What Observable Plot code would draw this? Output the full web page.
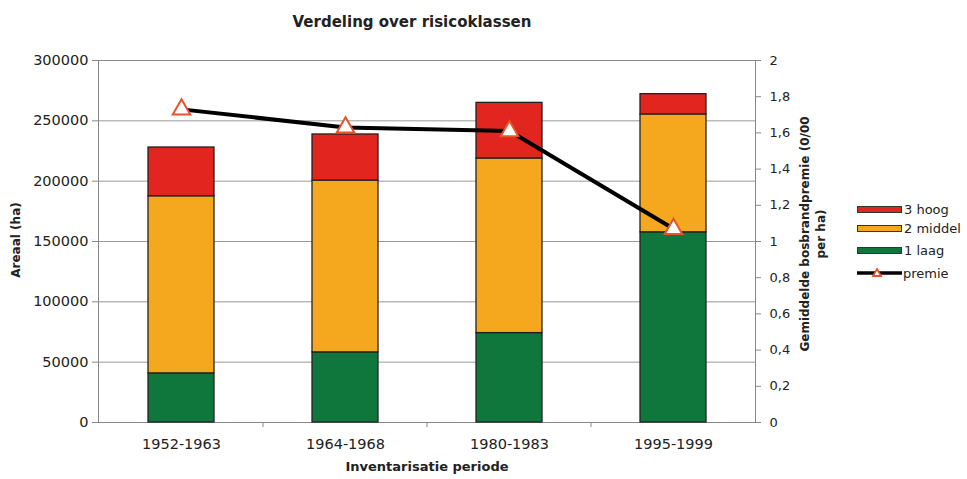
<!DOCTYPE html>
<html><head><meta charset="utf-8">
<script src="https://cdn.jsdelivr.net/npm/d3@7"></script>
<script src="https://cdn.jsdelivr.net/npm/@observablehq/plot@0.6"></script>
<style>
body{margin:0;background:#fff;}
#wrap{position:relative;width:967px;height:479px;font-family:"DejaVu Sans",sans-serif;color:#222;overflow:hidden;}
#wrap svg.plot{position:absolute;left:0;top:0;}
.lbl{position:absolute;white-space:nowrap;font-weight:bold;}
.leg{position:absolute;left:857px;font-size:13px;display:flex;align-items:center;white-space:nowrap;}
.leg .sw{width:43px;height:5px;border:1px solid #333;margin-right:2px;}
</style></head><body><div id="wrap"></div>
<script>
// ---- data ----
const periods = ["1952-1963", "1964-1968", "1980-1983", "1995-1999"];
const laag   = [40700, 58100, 74100, 157600];   // 1 laag
const middel = [146800, 142400, 144700, 97700]; // 2 middel
const hoog   = [40400, 38200, 46100, 16800];    // 3 hoog
const premie = [1.73, 1.63, 1.61, 1.07];        // gemiddelde bosbrandpremie
const classNames = ["1 laag", "2 middel", "3 hoog"];
const classColors = ["#10773c", "#f5a81d", "#e3251f"];
const leftTicks = [0, 50000, 100000, 150000, 200000, 250000, 300000];
const rightTicks = [0, 0.2, 0.4, 0.6, 0.8, 1, 1.2, 1.4, 1.6, 1.8, 2];

const factor = 300000 / 2; // right axis max 2 ↔ left axis max 300000

const stacked = [];
periods.forEach((p, i) => {
  [laag, middel, hoog].forEach((arr, k) => {
    stacked.push({period: p, klasse: classNames[k], value: arr[i]});
  });
});
const premieData = periods.map((p, i) => ({period: p, premie: premie[i]}));

const fmtRight = d => String(Math.round(d / factor * 10) / 10).replace(".", ",");

function boundaryTicks(index, scales, values, dimensions) {
  const sx = scales.x;
  const bw = typeof sx.bandwidth === "function" ? sx.bandwidth() : (sx.bandwidth || 0);
  const g = d3.create("svg:g").attr("stroke", "#888").attr("stroke-width", 1);
  const y0 = dimensions.height - dimensions.marginBottom;
  for (let i = 0; i < periods.length - 1; i++) {
    const xb = (sx(periods[i]) + sx(periods[i + 1])) / 2 + bw / 2;
    g.append("line").attr("x1", xb).attr("x2", xb).attr("y1", y0).attr("y2", y0 + 5);
  }
  return g.node();
}

const chart = Plot.plot({
  width: 967,
  height: 479,
  marginLeft: 98,
  marginRight: 212,
  marginTop: 60,
  marginBottom: 57,
  style: {fontFamily: "'DejaVu Sans', sans-serif", fontSize: "14px", color: "#222", background: "transparent"},
  x: {domain: periods, paddingInner: 0.6, paddingOuter: 0.3, align: 0.5},
  y: {domain: [0, 300000]},
  color: {domain: classNames, range: classColors},
  marks: [
    Plot.gridY(leftTicks, {stroke: "#999", strokeOpacity: 1}),
    Plot.frame({stroke: "#888"}),
    Plot.barY(stacked, {x: "period", y: "value", fill: "klasse", stroke: "#222", strokeWidth: 1.3}),
    Plot.line(premieData, {x: "period", y: d => d.premie * factor, stroke: "#000", strokeWidth: 4}),
    Plot.dot(premieData, {x: "period", y: d => d.premie * factor, symbol: "triangle", r: 6.5, fill: "#fff", stroke: "#e8542a", strokeWidth: 2}),
    Plot.axisY({anchor: "left", ticks: leftTicks, tickFormat: d => String(d), tickSize: 6, tickPadding: 4, label: null, stroke: "#888", fontSize: 14.5}),
    Plot.axisY({anchor: "right", ticks: rightTicks.map(v => v * factor), tickFormat: fmtRight, tickSize: 5, tickPadding: 9, label: null, stroke: "#888", fontSize: 13}),
    Plot.axisX({tickSize: 0, tickPadding: 16, label: null, fontSize: 14.5}),
    boundaryTicks
  ]
});
chart.classList.add("plot");
const wrap = document.getElementById("wrap");
wrap.appendChild(chart);

function addLabel(text, css, html) {
  const d = document.createElement("div");
  d.className = "lbl";
  if (html) d.innerHTML = text; else d.textContent = text;
  Object.assign(d.style, css);
  wrap.appendChild(d);
  return d;
}
// title
addLabel("Verdeling over risicoklassen", {left: "412px", top: "22px", fontSize: "15px", transform: "translate(-50%,-50%)"});
// x label
addLabel("Inventarisatie periode", {left: "427px", top: "466px", fontSize: "13px", transform: "translate(-50%,-50%)"});
// left y label
addLabel("Areaal (ha)", {left: "16px", top: "240px", fontSize: "12px", transform: "translate(-50%,-50%) rotate(-90deg)"});
// right y label
addLabel("Gemiddelde bosbrandpremie (0/00<br>per ha)", {left: "813px", top: "234px", fontSize: "12px", lineHeight: "16px", textAlign: "center", transform: "translate(-50%,-50%) rotate(-90deg)"}, true);

// legend
const legendItems = [
  {label: "3 hoog", color: classColors[2]},
  {label: "2 middel", color: classColors[1]},
  {label: "1 laag", color: classColors[0]},
  {label: "premie", line: true}
];
const legTops = [209, 228, 250, 273];
legendItems.forEach((it, i) => {
  const row = document.createElement("div");
  row.className = "leg";
  row.style.top = (legTops[i] - 8) + "px";
  row.style.height = "16px";
  if (it.line) {
    row.innerHTML = `<svg width="45" height="16" style="margin-right:1px"><line x1="0" x2="45" y1="8" y2="8" stroke="#000" stroke-width="3.5"/><path d="M20,4 L24,11 L16,11 Z" fill="#fff" stroke="#e8542a" stroke-width="1.8"/></svg>`;
  } else {
    row.innerHTML = `<div class="sw" style="background:${it.color}"></div>`;
  }
  const t = document.createElement("span");
  t.textContent = it.label;
  row.appendChild(t);
  wrap.appendChild(row);
});
</script></body></html>
